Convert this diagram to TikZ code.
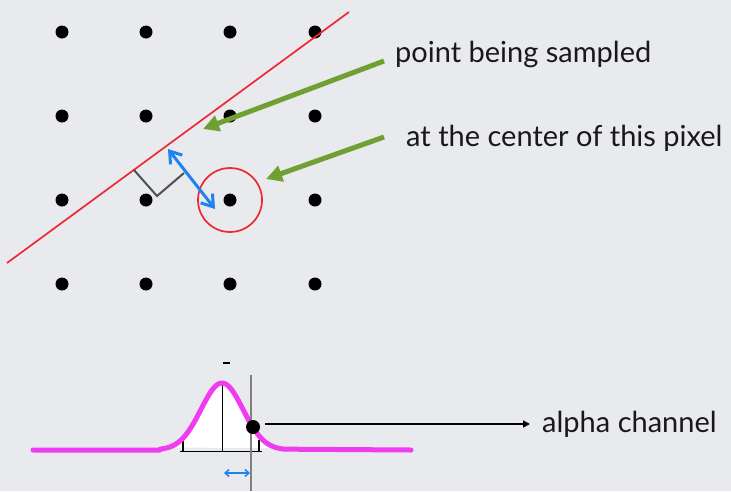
\documentclass[tikz,border=0pt]{standalone}
\usepackage{fontspec}
\setmainfont{Lato}
\usetikzlibrary{arrows.meta}
\definecolor{bg}{RGB}{233,234,237}
\definecolor{lred}{RGB}{240,40,50}
\definecolor{lgreen}{RGB}{110,160,50}
\definecolor{lblue}{RGB}{30,130,240}
\definecolor{lmag}{RGB}{240,60,240}
\definecolor{lgray}{RGB}{80,80,80}
\tikzset{
  dot/.style={circle,fill=black,inner sep=0pt,minimum size=13pt},
  label/.style={font=\fontsize{29}{33}\selectfont,inner sep=0pt,text=black!90},
  greenarrow/.style={draw=lgreen,line width=5pt,-{Triangle[length=16pt,width=16pt]}},
  bluearrow/.style={draw=lblue,line width=3pt,{Straight Barb[length=11pt,width=15pt]}-{Straight Barb[length=11pt,width=15pt]}},
}
\begin{document}
\begin{tikzpicture}[x=1pt,y=-1pt]
\fill[bg] (0,0) rectangle (731,491);
\useasboundingbox (0,0) rectangle (731,491);
% grid of dots
\foreach \i/\x in {1/62,2/146,3/230,4/315}{
  \foreach \j/\y in {1/32,2/116,3/200,4/284}{
    \node[dot] (d-\i-\j) at (\x,\y) {};
  }
}
% red edge line
\coordinate (l1) at (7,263);
\coordinate (l2) at (349,12);
\draw[lred,line width=1.7pt] (l1) -- (l2);
% pixel circle
\node[circle,draw=lred,line width=1.7pt,minimum size=64pt,inner sep=0pt] (pix) at (d-3-3) {};
% right angle mark
\coordinate (r1) at (134,170);
\coordinate (r2) at (157,196);
\coordinate (r3) at (184,173);
\draw[lgray,line width=2pt] (r1) -- (r2) -- (r3);
% blue distance arrow
\coordinate (b1) at (168,149);
\coordinate (b2) at (215,209);
\draw[bluearrow] (b1) -- (b2);
% labels
\node[label,anchor=base west] (t1) at (395,62) {point being sampled};
\node[label,anchor=base west] (t2) at (406,146) {at the center of this pixel};
\coordinate (g1s) at (384,61);
\coordinate (g1e) at (203,129);
\coordinate (g2s) at (384,137);
\coordinate (g2e) at (266,179);
\draw[greenarrow] (g1s) -- (g1e);
\draw[greenarrow] (g2s) -- (g2e);
% gaussian
\fill[white] plot[domain=168:278,samples=60] (\x,{450-67*exp(-((\x-222)^2)/882)}) -- cycle;
\draw[black,line width=0.8pt] (180,451) -- (262,451);
\draw[black,line width=0.8pt] (222,384) -- (222,451);
\draw[black,line width=2.5pt] (183,440) -- (183,451);
\draw[black,line width=2.5pt] (259,440) -- (259,451);
\draw[lmag,line width=5pt,line join=round,line cap=round] (33,450) -- (160,450) -- plot[domain=160:284,samples=80] (\x,{450-67*exp(-((\x-222)^2)/882)}) -- (411,450);
\draw[black,line width=2.5pt] (223,363) -- (230,363);
\coordinate (vt) at (251,375);
\coordinate (vb) at (251,491);
\draw[gray,line width=1.5pt] (vt) -- (vb);
\node[dot,minimum size=14pt] (sd) at (253,427) {};
\node[label,anchor=base west] (t3) at (542,432) {alpha channel};
\coordinate (ae) at (530,424);
\draw[black,line width=1.5pt,-{Triangle[length=7pt,width=7pt]}] (265,424) -- (ae);
\coordinate (s1) at (224,473);
\coordinate (s2) at (250,473);
\draw[lblue,line width=1.5pt,{Straight Barb[length=4pt,width=7pt]}-{Straight Barb[length=4pt,width=7pt]}] (s1) -- (s2);
\end{tikzpicture}
\end{document}
